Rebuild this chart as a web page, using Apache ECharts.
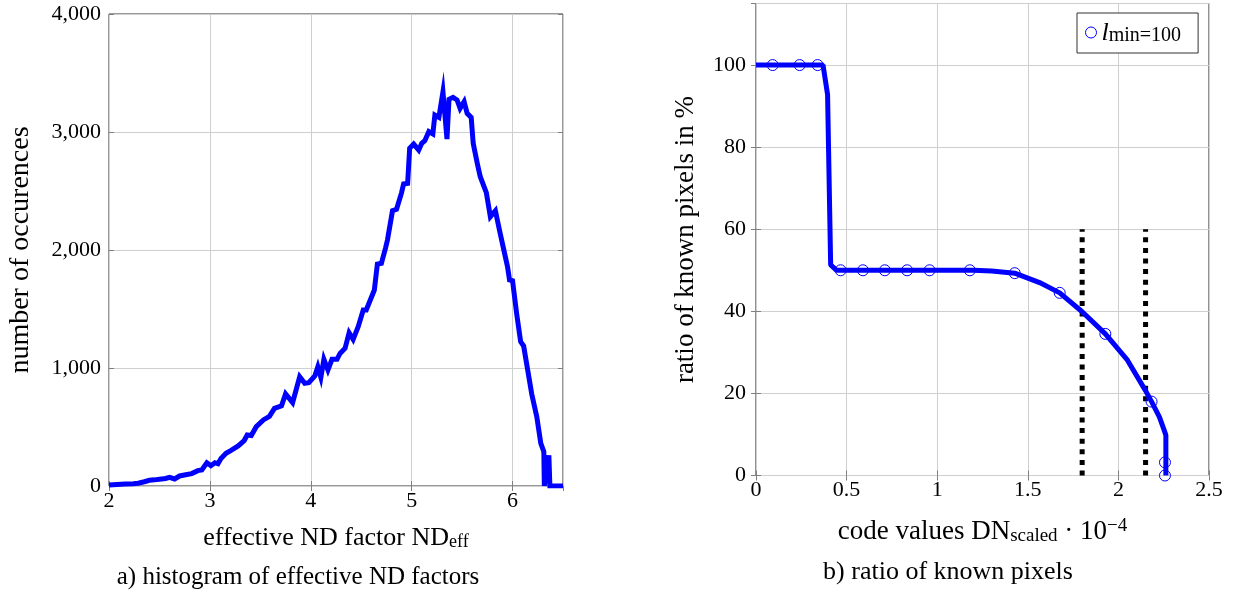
<!DOCTYPE html>
<html>
<head>
<meta charset="utf-8">
<script src="https://cdn.jsdelivr.net/npm/echarts@6/dist/echarts.min.js"></script>
<style>
html,body{margin:0;padding:0;background:#fff;}
#chart{width:1234px;height:592px;}
</style>
</head>
<body>
<div id="chart"></div>
<script>
// ---- left panel: histogram of effective ND factors ----
var ndFactor = [2.00,2.08,2.16,2.24,2.29,2.35,2.40,2.45,2.50,2.56,2.60,2.65,2.70,2.76,2.82,2.88,2.92,2.97,3.01,3.05,3.08,3.11,3.16,3.21,3.28,3.34,3.37,3.41,3.46,3.53,3.59,3.64,3.71,3.75,3.82,3.89,3.94,3.98,4.04,4.07,4.10,4.13,4.17,4.21,4.26,4.29,4.34,4.38,4.42,4.47,4.52,4.55,4.63,4.66,4.70,4.74,4.76,4.81,4.85,4.90,4.92,4.96,4.98,5.02,5.07,5.10,5.13,5.17,5.21,5.23,5.27,5.31,5.35,5.37,5.41,5.45,5.48,5.52,5.55,5.59,5.61,5.65,5.68,5.74,5.78,5.83,5.87,5.91,5.95,5.97,6.00,6.04,6.08,6.11,6.15,6.19,6.24,6.28,6.31,6.315,6.36,6.37,6.50];
var occurrences = [8,12,17,20,23,36,48,52,57,64,74,60,85,95,105,130,136,197,172,197,188,233,277,302,340,385,432,428,503,560,590,658,680,780,706,926,870,876,932,1011,921,1074,983,1074,1074,1124,1167,1299,1243,1350,1492,1492,1661,1881,1887,2014,2085,2333,2345,2486,2559,2565,2862,2898,2847,2904,2926,3003,2983,3144,3124,3340,2940,3277,3294,3271,3200,3257,3158,3124,2904,2735,2621,2486,2282,2333,2169,2014,1859,1746,1740,1464,1223,1186,983,780,587,362,290,0,260,0,0];
var leftXTicks = [2,3,4,5,6];
var leftYTicks = [0,1000,2000,3000,4000];

// ---- right panel: ratio of known pixels ----
var lineDN    = [0,0.37,0.395,0.412,0.445,0.80,1.20,1.30,1.428,1.565,1.676,1.80,1.928,2.05,2.148,2.183,2.226,2.253,2.262,2.262];
var lineRatio = [100,100,92.8,51.3,50,50,50,49.8,49.3,47.0,44.5,39.9,34.5,28.1,20.8,18.0,14.3,11.0,9.8,0];
var markDN    = [0.092,0.241,0.34,0.467,0.59,0.711,0.834,0.958,1.18,1.428,1.676,1.928,2.183,2.257,2.257];
var markRatio = [100,100,100,50,50,50,50,50,50,49.3,44.5,34.5,18.0,3.2,0];
var thresholdDN = [1.8, 2.15];
var thresholdTop = 60;
var rightXTicks = [0,0.5,1,1.5,2,2.5];
var rightYTicks = [0,20,40,60,80,100];

var FONT = '"Liberation Serif", "DejaVu Serif", serif';
var BLUE = '#0000ff';

function pairs(xs, ys){ var out=[]; for(var i=0;i<xs.length;i++) out.push([xs[i], ys[i]]); return out; }
function fmtThousands(v){ return String(v).replace(/\B(?=(\d{3})+(?!\d))/g, ','); }

var tickStyle = {show:true, inside:true, length:5, lineStyle:{color:'#7f7f7f', width:1}};
var gridLine = {show:true, lineStyle:{color:'#cfcfcf', width:1}};
var labelStyle = {fontFamily:FONT, fontSize:22, color:'#000'};

function richFor(size){
  return {
    t:{fontFamily:FONT, fontSize:size, lineHeight:size+2, verticalAlign:'bottom', color:'#000'},
    s:{fontFamily:FONT, fontSize:Math.round(size*0.7), lineHeight:Math.round(size*0.45), verticalAlign:'bottom', color:'#000'},
    p:{fontFamily:FONT, fontSize:Math.round(size*0.7), lineHeight:Math.round(size*0.5), verticalAlign:'top', color:'#000'}
  };
}

function mainX(gi, min, max, interval, name, gap, size, showMax){
  return {type:'value', gridIndex:gi, min:min, max:max, interval:interval, position:'bottom',
    axisLine:{show:false}, axisTick:tickStyle, splitLine:gridLine,
    axisLabel:Object.assign({margin:4, showMaxLabel:showMax, formatter:function(v){return String(v);}}, labelStyle),
    name:name, nameLocation:'middle', nameGap:gap,
    nameTextStyle:{fontFamily:FONT, fontSize:size, color:'#000', rich:richFor(size)}};
}
function mirrorX(gi, min, max, interval){
  return {type:'value', gridIndex:gi, min:min, max:max, interval:interval, position:'top',
    axisLine:{show:false}, axisTick:tickStyle, splitLine:{show:false}, axisLabel:{show:false}};
}
function mainY(gi, min, max, interval, name, gap, size, fmt, margin, showMax){
  return {type:'value', gridIndex:gi, min:min, max:max, interval:interval, position:'left',
    axisLine:{show:false}, axisTick:tickStyle, splitLine:gridLine,
    axisLabel:Object.assign({margin:margin, showMaxLabel:showMax, formatter:fmt}, labelStyle),
    name:name, nameLocation:'middle', nameGap:gap, nameRotate:90,
    nameTextStyle:{fontFamily:FONT, fontSize:size, color:'#000'}};
}
function mirrorY(gi, min, max, interval){
  return {type:'value', gridIndex:gi, min:min, max:max, interval:interval, position:'right',
    axisLine:{show:false}, axisTick:tickStyle, splitLine:{show:false}, axisLabel:{show:false}};
}

var option = {
  animation:false,
  backgroundColor:'#fff',
  grid:[
    {left:109, top:14, width:454, height:472, show:true, borderColor:'#333', borderWidth:1, backgroundColor:'transparent'},
    {left:756, top:3.5, width:453, height:472, show:true, borderColor:'#222', borderWidth:1, backgroundColor:'transparent'}
  ],
  xAxis:[
    mainX(0, 2, 6.5, 1, '{t|effective ND factor ND}{s|eff}', 37, 26, false),
    mirrorX(0, 2, 6.5, 1),
    mainX(1, 0, 2.5, 0.5, '{t|code values DN}{s|scaled}{t| · 10}{p|−4}', 41, 27, true),
    mirrorX(1, 0, 2.5, 0.5)
  ],
  yAxis:[
    mainY(0, 0, 4000, 1000, 'number of occurences', 74, 28, fmtThousands, 8, true),
    mirrorY(0, 0, 4000, 1000),
    mainY(1, 0, 115, 20, 'ratio of known pixels in %', 57, 27, null, 10, false),
    mirrorY(1, 0, 115, 20)
  ],
  legend:{
    data:['lmin'],
    left:1077, top:13,
    icon:'circle', itemWidth:11, itemHeight:11,
    itemStyle:{color:'rgba(0,0,0,0)', borderColor:BLUE, borderWidth:1},
    backgroundColor:'#fff', borderColor:'#333', borderWidth:1,
    padding:[7,17,7,8],
    formatter:function(){ return '{l|l}{s|min=100}'; },
    textStyle:{fontFamily:FONT, rich:{
      l:{fontFamily:FONT, fontSize:26, fontStyle:'italic', lineHeight:27, verticalAlign:'bottom', color:'#000'},
      s:{fontFamily:FONT, fontSize:20, lineHeight:12, verticalAlign:'bottom', color:'#000'}
    }}
  },
  series:[
    {type:'line', name:'histogram', xAxisIndex:0, yAxisIndex:0, data:pairs(ndFactor, occurrences),
      showSymbol:false, symbol:'none', lineStyle:{color:BLUE, width:5, join:'miter'}, z:5},
    {type:'line', name:'threshold1', xAxisIndex:2, yAxisIndex:2, data:[[thresholdDN[0],0],[thresholdDN[0],thresholdTop]],
      symbol:'none', lineStyle:{color:'#000', width:5, type:[5,5.6], cap:'butt'}, z:3},
    {type:'line', name:'threshold2', xAxisIndex:2, yAxisIndex:2, data:[[thresholdDN[1],0],[thresholdDN[1],thresholdTop]],
      symbol:'none', lineStyle:{color:'#000', width:5, type:[5,5.6], cap:'butt'}, z:3},
    {type:'line', name:'ratioLine', xAxisIndex:2, yAxisIndex:2, data:pairs(lineDN, lineRatio),
      symbol:'none', lineStyle:{color:BLUE, width:5}, z:4},
    {type:'scatter', name:'lmin', xAxisIndex:2, yAxisIndex:2, data:pairs(markDN, markRatio),
      symbol:'circle', symbolSize:11, itemStyle:{color:'rgba(0,0,0,0)', borderColor:BLUE, borderWidth:1, opacity:1}, z:6}
  ],
  graphic:[
    {type:'text', x:298, y:577, style:{text:'a) histogram of effective ND factors', fontFamily:FONT, fontSize:25, fill:'#000', align:'center', verticalAlign:'middle'}},
    {type:'text', x:948, y:572, style:{text:'b) ratio of known pixels', fontFamily:FONT, fontSize:26, fill:'#000', align:'center', verticalAlign:'middle'}}
  ]
};

var chart = echarts.init(document.getElementById('chart'), null, {renderer:'canvas'});
chart.setOption(option);
</script>
</body>
</html>
